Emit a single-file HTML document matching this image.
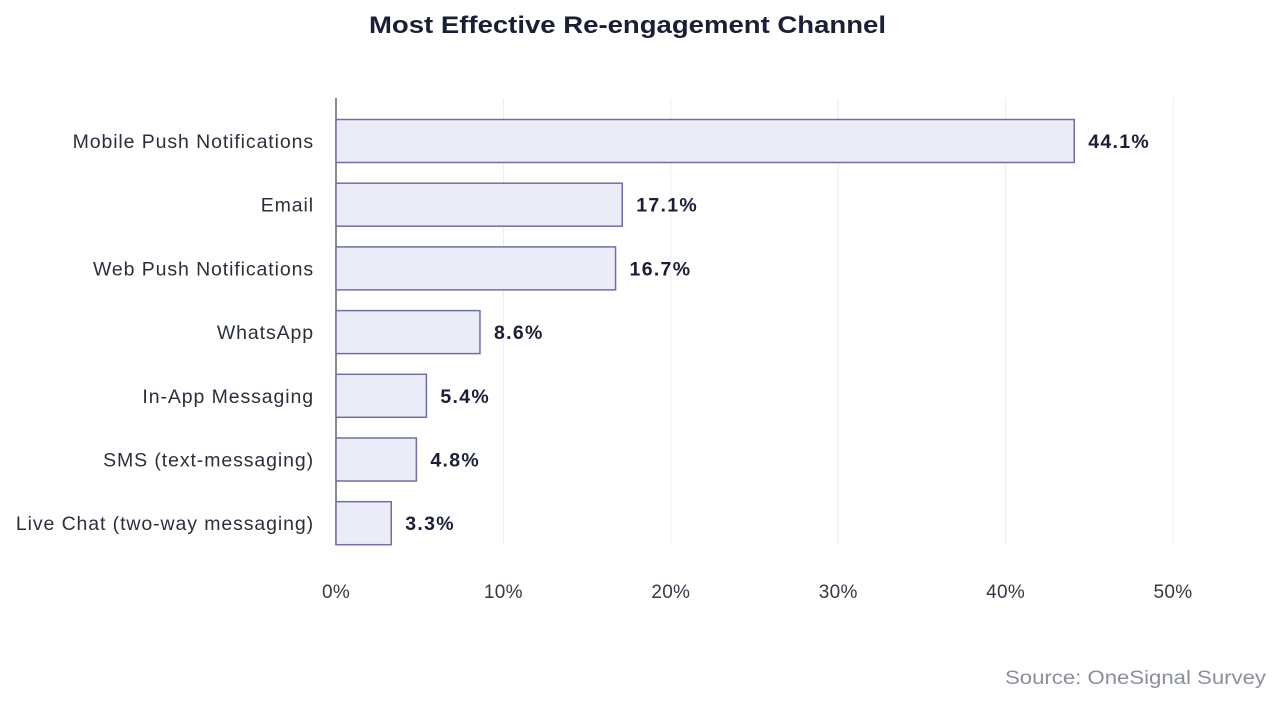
<!DOCTYPE html>
<html><head><meta charset="utf-8"><style>
body{margin:0;background:#fff;width:1280px;height:698px;overflow:hidden;font-family:"Liberation Sans",sans-serif}
</style></head><body>
<svg width="1280" height="698">
<text x="369" y="33" textLength="517" lengthAdjust="spacingAndGlyphs" font-size="24" font-weight="bold" fill="#1a1f36">Most Effective Re-engagement Channel</text>
<g id="grid"></g><g id="bars"></g>
<text x="1005" y="684" textLength="261" lengthAdjust="spacingAndGlyphs" font-size="19" fill="#8a8f99">Source: OneSignal Survey</text>
</svg>
<script>
const categories=["Mobile Push Notifications","Email","Web Push Notifications","WhatsApp","In-App Messaging","SMS (text-messaging)","Live Chat (two-way messaging)"];
const values=[44.1,17.1,16.7,8.6,5.4,4.8,3.3];
const ticks=[0,10,20,30,40,50];
const ns="http://www.w3.org/2000/svg";
const x=v=>336+v*16.74;
const y=i=>141+i*63.7;
function mk(t,a,p,txt){const e=document.createElementNS(ns,t);for(const k in a)e.setAttribute(k,a[k]);if(txt!=null)e.textContent=txt;p.appendChild(e);return e;}
const g=document.getElementById('grid'),b=document.getElementById('bars');
ticks.forEach(t=>{
 if(t>0){const l=mk('line',{x1:x(t),x2:x(t),y1:98,y2:545,stroke:'#ececef','stroke-width':1},g);
 
 }
 const tl=mk('text',{x:x(t),y:598,'text-anchor':'middle','font-size':19,'letter-spacing':'0.3',fill:'#333a45'},g,t+'%');
 
 
});
const ax=mk('line',{x1:336,x2:336,y1:98,y2:545,stroke:'#666','stroke-width':1.5},g);


categories.forEach((c,i)=>{
 const r=mk('rect',{x:336,y:y(i)-21.5,width:x(values[i])-336,height:43,fill:'#ececf9',stroke:'#6f6fa6','stroke-width':1.5},b);
 
 
 const lb=mk('text',{x:314,y:y(i)+7,'text-anchor':'end','font-size':19.5,'letter-spacing':'0.9',fill:'#2a303b'},b,c);
 
 
 const vl=mk('text',{x:x(values[i])+14,y:y(i)+7,'font-size':19.5,'letter-spacing':'1.3','font-weight':'bold',fill:'#1a1f36'},b,values[i].toFixed(1)+'%');
 
 
});
</script>
</body></html>
